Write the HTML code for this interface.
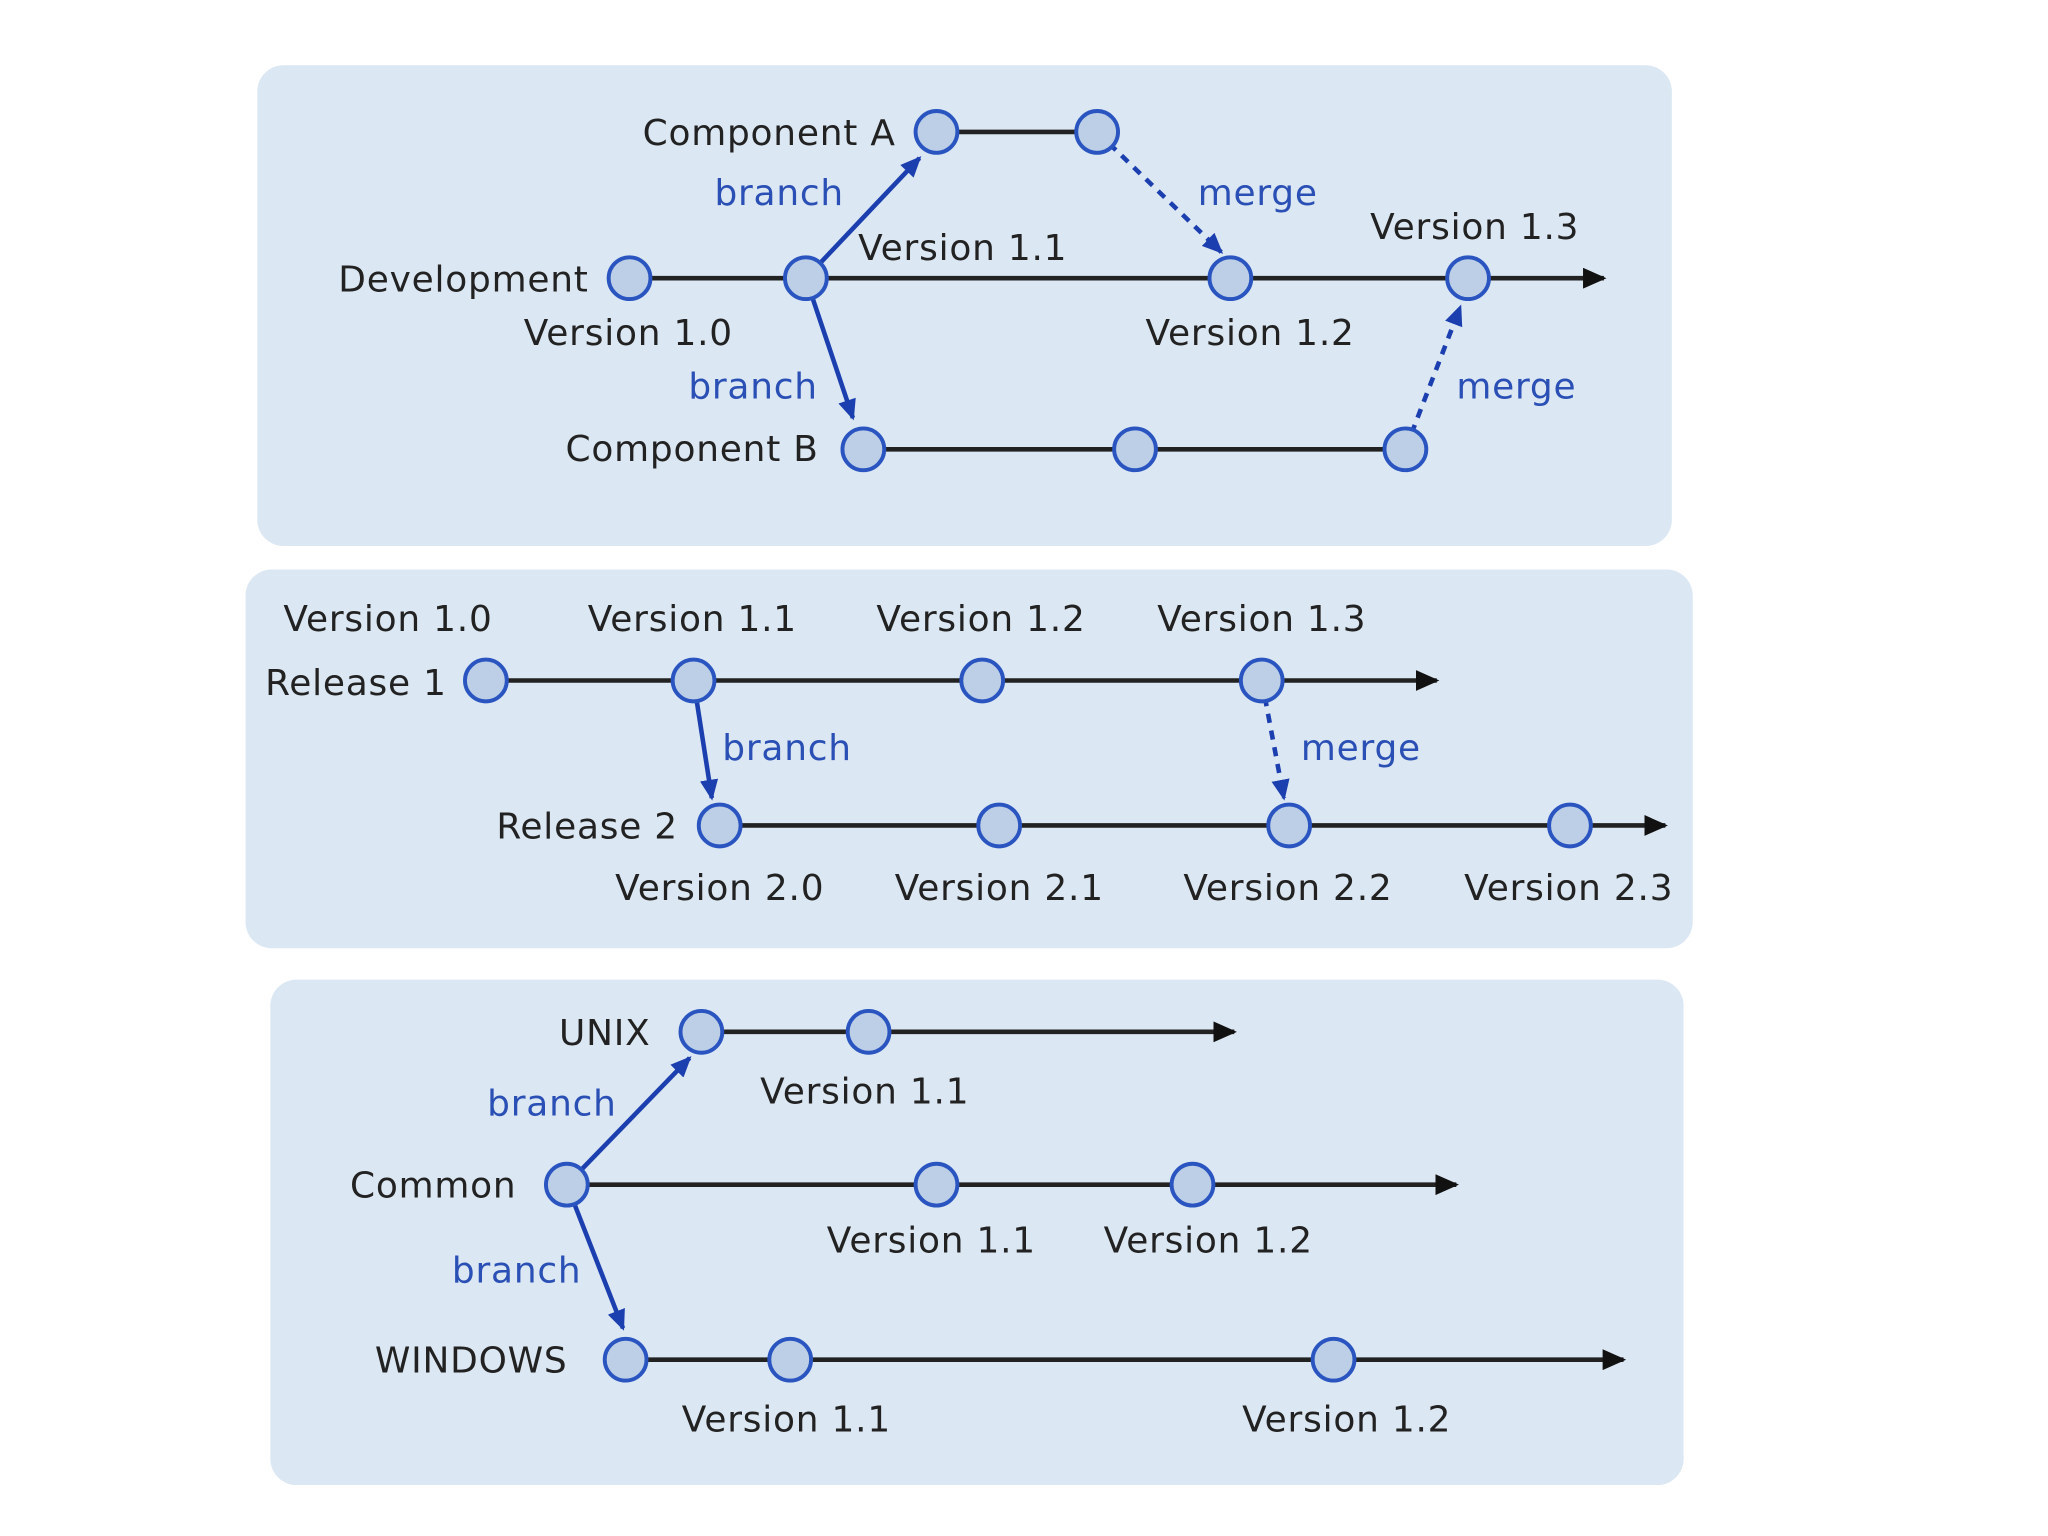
<!DOCTYPE html>
<html><head><meta charset="utf-8"><style>html,body{margin:0;padding:0;background:#fff}svg{display:block}</style></head>
<body>
<svg width="2048" height="1536" viewBox="0 0 1568 1176" xmlns="http://www.w3.org/2000/svg" font-family="DejaVu Sans, Liberation Sans, sans-serif" font-size="27.5" letter-spacing="0.6">
<defs>
<marker id="ak" markerWidth="18" markerHeight="16" refX="16" refY="8" orient="auto" markerUnits="userSpaceOnUse"><path d="M0,0 L18,8 L0,16z" fill="#111"/></marker>
<marker id="ab2" markerWidth="16" markerHeight="16" refX="14" refY="8" orient="auto" markerUnits="userSpaceOnUse"><path d="M0,1 L16,8 L0,15z" fill="#1c3fb0"/></marker>
</defs>
<rect x="197" y="50" width="1083" height="368" rx="20" fill="#dbe7f2"/>
<rect x="188" y="436" width="1108" height="290" rx="20" fill="#dbe7f2"/>
<rect x="207" y="750" width="1082" height="387" rx="20" fill="#dbe7f2"/>
<g stroke="#222" stroke-width="3.5" fill="none">
<line x1="482" y1="213" x2="1228" y2="213" marker-end="url(#ak)"/>
<line x1="717" y1="101" x2="840" y2="101"/>
<line x1="661" y1="344" x2="1076" y2="344"/>
<line x1="372" y1="521" x2="1100" y2="521" marker-end="url(#ak)"/>
<line x1="551" y1="632" x2="1275" y2="632" marker-end="url(#ak)"/>
<line x1="537" y1="790" x2="945" y2="790" marker-end="url(#ak)"/>
<line x1="434" y1="907" x2="1115" y2="907" marker-end="url(#ak)"/>
<line x1="479" y1="1041" x2="1243" y2="1041" marker-end="url(#ak)"/>
</g>
<g stroke="#1c3fb0" stroke-width="3.5" fill="none">
<line x1="617" y1="213" x2="704" y2="121" marker-end="url(#ab2)"/>
<line x1="617" y1="213" x2="653" y2="320" marker-end="url(#ab2)"/>
<line x1="531" y1="521" x2="545" y2="611" marker-end="url(#ab2)"/>
<line x1="434" y1="907" x2="528" y2="810" marker-end="url(#ab2)"/>
<line x1="434" y1="907" x2="477" y2="1017" marker-end="url(#ab2)"/>
<g stroke-dasharray="7,6">
<line x1="840" y1="101" x2="935" y2="193" marker-end="url(#ab2)"/>
<line x1="1076" y1="344" x2="1118" y2="235" marker-end="url(#ab2)"/>
<line x1="966" y1="521" x2="983" y2="611" marker-end="url(#ab2)"/>
</g>
</g>
<g fill="#bccfe7" stroke="#2a55c0" stroke-width="3">
<circle cx="482" cy="213" r="16"/><circle cx="617" cy="213" r="16"/><circle cx="942" cy="213" r="16"/><circle cx="1124" cy="213" r="16"/>
<circle cx="717" cy="101" r="16"/><circle cx="840" cy="101" r="16"/>
<circle cx="661" cy="344" r="16"/><circle cx="869" cy="344" r="16"/><circle cx="1076" cy="344" r="16"/>
<circle cx="372" cy="521" r="16"/><circle cx="531" cy="521" r="16"/><circle cx="752" cy="521" r="16"/><circle cx="966" cy="521" r="16"/>
<circle cx="551" cy="632" r="16"/><circle cx="765" cy="632" r="16"/><circle cx="987" cy="632" r="16"/><circle cx="1202" cy="632" r="16"/>
<circle cx="537" cy="790" r="16"/><circle cx="665" cy="790" r="16"/>
<circle cx="434" cy="907" r="16"/><circle cx="717" cy="907" r="16"/><circle cx="913" cy="907" r="16"/>
<circle cx="479" cy="1041" r="16"/><circle cx="605" cy="1041" r="16"/><circle cx="1021" cy="1041" r="16"/>
</g>
<g fill="#222">
<text x="492" y="111">Component A</text>
<text x="657" y="199">Version 1.1</text>
<text x="1049" y="183">Version 1.3</text>
<text x="259" y="223">Development</text>
<text x="401" y="264">Version 1.0</text>
<text x="877" y="264">Version 1.2</text>
<text x="433" y="353">Component B</text>
<text x="217" y="483">Version 1.0</text>
<text x="450" y="483">Version 1.1</text>
<text x="671" y="483">Version 1.2</text>
<text x="886" y="483">Version 1.3</text>
<text x="203" y="532">Release 1</text>
<text x="380" y="642">Release 2</text>
<text x="471" y="689">Version 2.0</text>
<text x="685" y="689">Version 2.1</text>
<text x="906" y="689">Version 2.2</text>
<text x="1121" y="689">Version 2.3</text>
<text x="428" y="800">UNIX</text>
<text x="582" y="845">Version 1.1</text>
<text x="268" y="917">Common</text>
<text x="633" y="959">Version 1.1</text>
<text x="845" y="959">Version 1.2</text>
<text x="287" y="1051">WINDOWS</text>
<text x="522" y="1096">Version 1.1</text>
<text x="951" y="1096">Version 1.2</text>
</g>
<g fill="#2a4fb5">
<text x="547" y="157">branch</text>
<text x="917" y="157">merge</text>
<text x="527" y="305">branch</text>
<text x="1115" y="305">merge</text>
<text x="553" y="582">branch</text>
<text x="996" y="582">merge</text>
<text x="373" y="854">branch</text>
<text x="346" y="982">branch</text>
</g>
</svg>
</body></html>
